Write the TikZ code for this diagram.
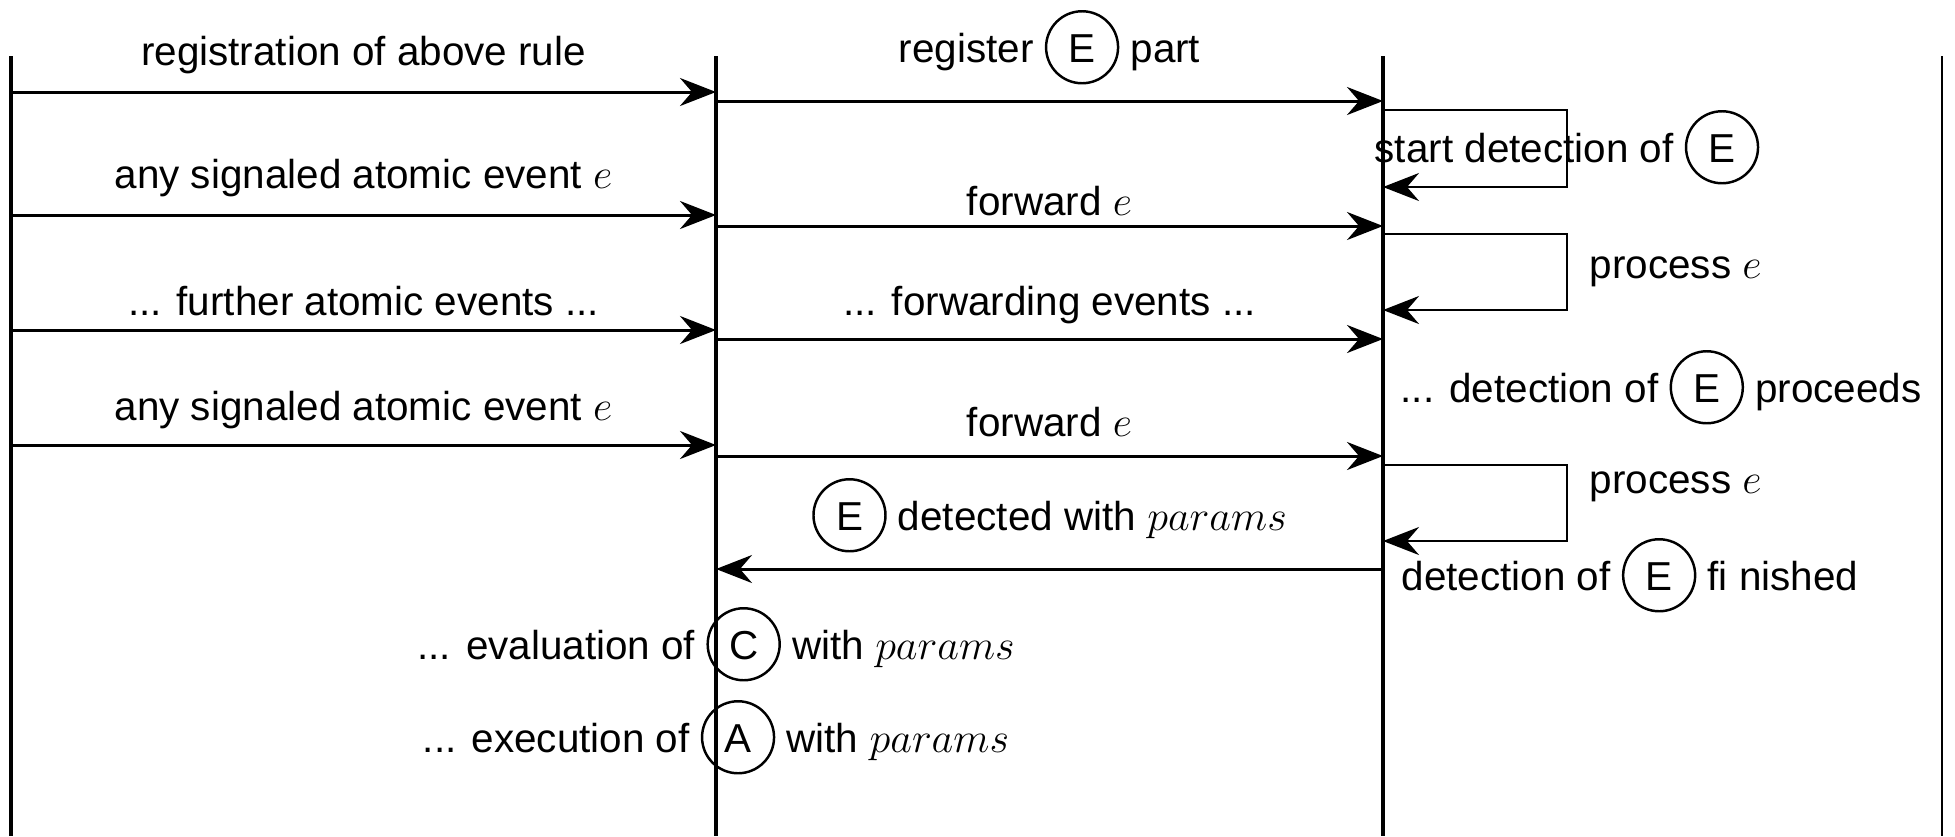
\documentclass[tikz,border=0pt]{standalone}
\usepackage{fontspec}
\setmainfont{Liberation Sans}
\usetikzlibrary{arrows.meta,positioning}
\newcommand{\evnt}[1]{\tikz[baseline=(ev.base)]\node[circle,draw,line width=0.7pt,minimum size=0.72cm,inner sep=0pt,text height=8.4pt,text depth=0pt] (ev) {#1};}

\begin{document}
\begin{tikzpicture}[>={Stealth[length=3.6mm,width=2.8mm,inset=1.2mm]},
  lifeline/.style={line width=1.2pt},
  msg/.style={->,line width=0.85pt},
  lbl/.style={anchor=base,inner sep=0pt,font=\fontsize{11.5}{14}\selectfont}]
\useasboundingbox (0,0) rectangle (19.55,-8.36);
\coordinate (rule top) at (0.11,-0.56);  \coordinate (rule bot) at (0.11,-8.36);
\coordinate (eca top) at (7.16,-0.56);   \coordinate (eca bot) at (7.16,-8.36);
\coordinate (det top) at (13.83,-0.56);  \coordinate (det bot) at (13.83,-8.36);
\coordinate (edge top) at (19.42,-0.56); \coordinate (edge bot) at (19.42,-8.36);
\foreach \n in {rule,eca,det} \draw[lifeline] (\n\space top) -- (\n\space bot);
\draw[line width=0.7pt] (edge top) -- (edge bot);
\foreach \i/\y in {1/0.92, 3/2.15, 5/3.30, 7/4.45}{
  \coordinate (r\i) at (0.11,-\y);
  \coordinate (e\i) at (7.16,-\y);
  \draw[msg] (r\i) -- (e\i);
}
\foreach \i/\y in {2/1.01, 4/2.26, 6/3.39, 8/4.56}{
  \coordinate (e\i) at (7.16,-\y);
  \coordinate (d\i) at (13.83,-\y);
  \draw[msg] (e\i) -- (d\i);
}
\coordinate (d9) at (13.83,-5.69);
\coordinate (e9) at (7.16,-5.69);
\draw[msg] (d9) -- (e9);
\foreach \i/\a/\b in {1/1.10/1.87, 2/2.34/3.10, 3/4.65/5.41}{
  \coordinate (lp\i a) at (13.83,-\a);
  \coordinate (lp\i b) at (13.83,-\b);
  \draw[msg,line width=0.8pt] (lp\i a) -- ++(1.84,0) |- (lp\i b);
}
\foreach \y/\txt [count=\k] in {0.65/registration of above rule, 1.88/{any signaled atomic event $e$},
                                3.15/{... further atomic events ...}, 4.20/{any signaled atomic event $e$}}
  \node[lbl] (left\k) at (3.635,-\y) {\txt};
\foreach \y/\txt [count=\k] in {0.62/{register \evnt{E} part}, 2.15/{forward $e$}, 3.15/{... forwarding events ...},
                                4.36/{forward $e$}, 5.30/{\evnt{E} detected with $params$}}
  \node[lbl] (mid\k) at (10.495,-\y) {\txt};
\node[lbl] (start) at (15.67,-1.62) {start detection of \evnt{E}};
\node[lbl,anchor=base west] (proc1) at (15.89,-2.78) {process $e$};
\node[lbl,anchor=base west] (proceeds) at (14.00,-4.02) {... detection of \evnt{E} proceeds};
\node[lbl,anchor=base west] (proc2) at (15.89,-4.93) {process $e$};
\node[lbl,anchor=base west] (finished) at (14.01,-5.90) {detection of \evnt{E} fi nished};
\node[lbl] (eval) at (7.16,-6.59) {... evaluation of \evnt{C} with $params$};
\node[lbl] (exec) at (7.16,-7.52) {... execution of \evnt{A} with $params$};
\end{tikzpicture}
\end{document}
